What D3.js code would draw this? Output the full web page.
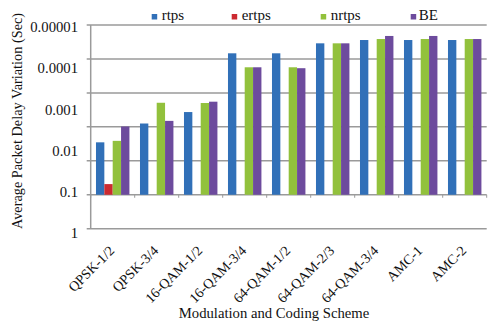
<!DOCTYPE html>
<meta charset="utf-8">
<style>
body { margin: 0; background: #fff; }
text { font-family: "Liberation Serif", "Times New Roman", serif; fill: #111; }
.grid line { stroke: #9a9a9a; stroke-width: 1.5; }
</style>
<svg id="chart" width="494" height="327"></svg>
<script src="https://d3js.org/d3.v7.min.js"></script>
<script>

var categories = ["QPSK-1/2", "QPSK-3/4", "16-QAM-1/2", "16-QAM-3/4", "64-QAM-1/2",
                  "64-QAM-2/3", "64-QAM-3/4", "AMC-1", "AMC-2"];
var series = ["rtps", "ertps", "nrtps", "BE"];
var colors = ["#3170b8", "#cc2a30", "#92c13c", "#6d4b9d"];

// average packet delay variation (sec)
var rtps  = [0.0063, 0.0022, 0.00116, 0.0000435, 0.0000435, 0.0000249, 0.0000207, 0.0000207, 0.0000207];
var ertps = [0.065, null, null, null, null, null, null, null, null];
var nrtps = [0.0058, 0.00069, 0.0007, 0.000095, 0.000095, 0.0000249, 0.0000196, 0.0000196, 0.0000196];
var be    = [0.0026, 0.0019, 0.00065, 0.000095, 0.0001, 0.0000249, 0.0000165, 0.0000165, 0.0000196];

var tickValues = [1, 0.1, 0.01, 0.001, 0.0001, 0.00001];
var tickLabels = ["1", "0.1", "0.01", "0.001", "0.0001", "0.00001"];

var values = [rtps, ertps, nrtps, be];

var svg = d3.select("svg");

var plotLeft = 90.7, plotRight = 486.7, plotTop = 25, plotBottom = 228.7;

// value scale used for labels and bar tops
var y = d3.scaleLog().domain([1, 0.00001]).range([233, 27]);
// gridline scale (7 evenly spaced lines as in the original)
var grid = d3.scaleLinear().domain([0, 6]).range([plotBottom, plotTop]);

var x = d3.scaleBand().domain(categories).range([plotLeft, plotRight])
    .paddingInner(0.24).paddingOuter(0.12);
var x1 = d3.scaleBand().domain(series).range([0, x.bandwidth()]);

// gridlines
svg.append("g").attr("class", "grid")
  .selectAll("line")
  .data(grid.ticks(6))
  .enter().append("line")
    .attr("x1", plotLeft - 4).attr("x2", plotRight)
    .attr("y1", function(d) { return grid(d); })
    .attr("y2", function(d) { return grid(d); });

// vertical axis line
svg.append("line")
    .attr("x1", plotLeft).attr("x2", plotLeft)
    .attr("y1", plotTop).attr("y2", plotBottom)
    .attr("stroke", "#9a9a9a").attr("stroke-width", 1.5);

var base = grid(1);

// category ticks on the baseline
var step = x.step();
svg.append("g").selectAll("line")
  .data(d3.range(categories.length + 1))
  .enter().append("line")
    .attr("x1", function(i) { return plotLeft + i * step; })
    .attr("x2", function(i) { return plotLeft + i * step; })
    .attr("y1", base).attr("y2", base + 3)
    .attr("stroke", "#9a9a9a").attr("stroke-width", 1);

// bars
var groups = svg.append("g").selectAll("g")
  .data(categories)
  .enter().append("g")
    .attr("transform", function(d) { return "translate(" + x(d) + ",0)"; });

groups.selectAll("rect")
  .data(function(d, i) {
    return series.map(function(s, j) { return {s: s, v: values[j][i], c: colors[j]}; })
      .filter(function(e) { return e.v != null; });
  })
  .enter().append("rect")
    .attr("x", function(d) { return x1(d.s); })
    .attr("width", x1.bandwidth())
    .attr("y", function(d) { return y(d.v); })
    .attr("height", function(d) { return base - y(d.v); })
    .attr("fill", function(d) { return d.c; });

// y labels
var yAxis = svg.append("g")
    .attr("transform", "translate(78,0)")
    .call(d3.axisLeft(y).tickValues(tickValues)
      .tickFormat(function(d, i) { return tickLabels[i]; })
      .tickSize(0).tickPadding(0));
yAxis.select(".domain").remove();
yAxis.selectAll("text")
    .style("font-family", "Liberation Serif")
    .style("font-size", "14.7px")
    .attr("fill", "#111");

// x labels
svg.append("g").selectAll("text")
  .data(categories)
  .enter().append("text")
    .attr("transform", function(d) {
      return "translate(" + (x(d) + x.bandwidth() / 2 - 1) + ",248) rotate(-45)";
    })
    .attr("text-anchor", "end")
    .attr("dy", "0.35em")
    .style("font-size", "14px")
    .text(function(d) { return d; });

// axis titles
svg.append("text")
    .attr("x", 274).attr("y", 318)
    .attr("text-anchor", "middle")
    .style("font-size", "14.7px")
    .text("Modulation and Coding Scheme");

svg.append("text")
    .attr("transform", "translate(22,121) rotate(-90)")
    .attr("text-anchor", "middle")
    .style("font-size", "14.3px")
    .text("Average Packet Delay Variation (Sec)");

// legend
var legendX = [151.7, 231.7, 320.7, 410.7];
var legend = svg.append("g").selectAll("g")
  .data(series)
  .enter().append("g")
    .attr("transform", function(d, i) { return "translate(" + legendX[i] + ",14)"; });
legend.append("rect")
    .attr("width", 5.5).attr("height", 5.5)
    .attr("fill", function(d, i) { return colors[i]; });
legend.append("text")
    .attr("x", function(d) { return d == "BE" ? 8 : 10; })
    .attr("y", 5.5)
    .style("font-size", "15px")
    .text(function(d) { return d; });

</script>
